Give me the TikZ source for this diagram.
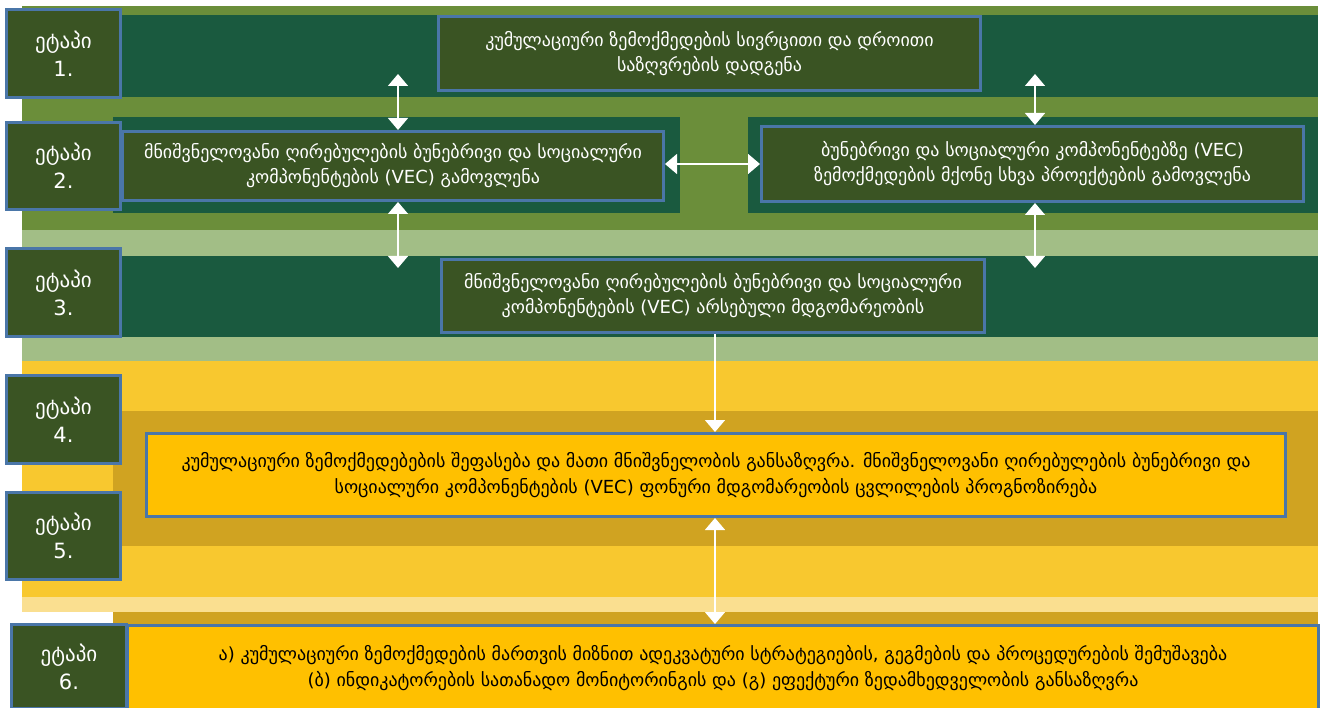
\documentclass[tikz,border=0pt]{standalone}
\usepackage{fontspec}
\setmainfont{DejaVu Sans}
\usetikzlibrary{arrows.meta}
\definecolor{cOlive}{HTML}{6B8E3A}
\definecolor{cTeal}{HTML}{1A5A3F}
\definecolor{cLabel}{HTML}{3A5423}
\definecolor{cBorder}{HTML}{4A76A8}
\definecolor{cLight}{HTML}{A2BE86}
\definecolor{cYellow}{HTML}{F8C82F}
\definecolor{cGold}{HTML}{D0A321}
\definecolor{cBoxY}{HTML}{FFC000}
\definecolor{cPale}{HTML}{FADF90}
\begin{document}
\begin{tikzpicture}[x=1pt,y=-1pt,
  stagebox/.style={draw=cBorder, line width=3pt, fill=cLabel, text=white, align=center,
    font=\fontsize{21}{28}\selectfont, inner sep=0pt},
  greenbox/.style={draw=cBorder, line width=3pt, fill=cLabel, text=white, align=center,
    font=\fontsize{18}{25}\selectfont, inner sep=0pt},
  yellowbox/.style={draw=cBorder, line width=3pt, fill=cBoxY, text=black, align=center,
    font=\fontsize{18}{26}\selectfont, inner sep=0pt},
  link/.style={draw=white, line width=1.5pt,
    {Triangle[width=20pt,length=12pt]}-{Triangle[width=20pt,length=12pt]}},
  linkone/.style={draw=white, line width=1.5pt, -{Triangle[width=20pt,length=12pt]}}
]
\useasboundingbox (0,0) rectangle (1324,708);
\fill[white] (0,0) rectangle (1324,708);
% background bands
\fill[cOlive] (22,6) rectangle (1318,230);
\fill[cTeal] (22,15) rectangle (1318,97);
\fill[cTeal] (113,117) rectangle (680,213);
\fill[cTeal] (748,117) rectangle (1318,213);
\fill[cLight] (22,230) rectangle (1318,361);
\fill[cTeal] (22,256) rectangle (1318,337);
\fill[cYellow] (22,361) rectangle (1318,597);
\fill[cGold] (113,411) rectangle (1318,546);
\fill[cPale] (22,597) rectangle (1318,612);
\fill[cGold] (113,612) rectangle (1318,708);

% content boxes
\node[greenbox, minimum width=542pt, minimum height=74pt] (t1) at (709.5,53.5)
  {კუმულაციური ზემოქმედების სივრცითი და დროითი\\საზღვრების დადგენა};
\node[greenbox, minimum width=541pt, minimum height=69pt] (t2l) at (393,166)
  {მნიშვნელოვანი ღირებულების ბუნებრივი და სოციალური\\კომპონენტების  (VEC) გამოვლენა};
\node[greenbox, minimum width=542pt, minimum height=75pt] (t2r) at (1032.5,164)
  {ბუნებრივი და სოციალური კომპონენტებზე (VEC)\\ზემოქმედების მქონე სხვა პროექტების გამოვლენა};
\node[greenbox, minimum width=543pt, minimum height=73pt] (t3) at (713,296)
  {მნიშვნელოვანი ღირებულების ბუნებრივი და სოციალური\\კომპონენტების (VEC)  არსებული მდგომარეობის};
\node[yellowbox, minimum width=1139pt, minimum height=83pt] (t4) at (716,475)
  {კუმულაციური ზემოქმედებების შეფასება და მათი მნიშვნელობის განსაზღვრა. მნიშვნელოვანი ღირებულების ბუნებრივი და\\სოციალური კომპონენტების (VEC) ფონური მდგომარეობის ცვლილების პროგნოზირება};
\node[yellowbox, minimum width=1191pt, minimum height=85pt] (t6) at (723,668)
  {ა) კუმულაციური ზემოქმედების მართვის მიზნით ადეკვატური სტრატეგიების, გეგმების და პროცედურების შემუშავება\\(ბ) ინდიკატორების სათანადო მონიტორინგის და (გ) ეფექტური ზედამხედველობის განსაზღვრა};

% stage labels
\node[stagebox, minimum width=114pt, minimum height=88pt] (s1) at (63.5,53.5) {ეტაპი\\1.};
\node[stagebox, minimum width=114pt, minimum height=87pt] (s2) at (63.5,166) {ეტაპი\\2.};
\node[stagebox, minimum width=114pt, minimum height=88pt] (s3) at (63.5,292.5) {ეტაპი\\3.};
\node[stagebox, minimum width=114pt, minimum height=88pt] (s4) at (63.5,419.5) {ეტაპი\\4.};
\node[stagebox, minimum width=114pt, minimum height=87pt] (s5) at (63.5,536) {ეტაპი\\5.};
\node[stagebox, minimum width=115pt, minimum height=84pt] (s6) at (69,666.5) {ეტაპი\\6.};

% connectors
\coordinate (xa) at (398,0);
\coordinate (xb) at (1035,0);
\coordinate (xc) at (715,0);
\coordinate (a1) at (398,74);
\coordinate (b1) at (1035,74);
\coordinate (a2) at (398,268);
\coordinate (b2) at (1035,268);
\draw[link] (a1) -- (t2l.north -| xa);
\draw[link] (b1) -- (t2r.north -| xb);
\draw[link] (t2l.east |- t2r.west) -- (t2r.west);
\draw[link] (t2l.south -| xa) -- (a2);
\draw[link] (t2r.south -| xb) -- (b2);
\draw[linkone] (t3.south -| xc) -- (t4.north -| xc);
\draw[link] (t4.south -| xc) -- (t6.north -| xc);
\end{tikzpicture}
\end{document}
